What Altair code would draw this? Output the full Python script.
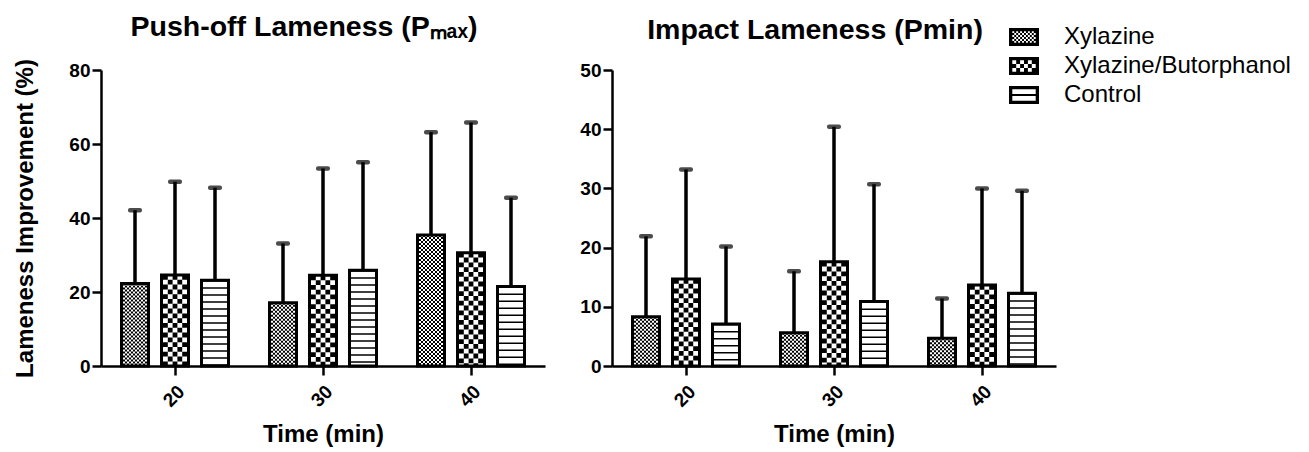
import altair as alt
import pandas as pd

times = ["20", "30", "40"]
series = ["Xylazine", "Xylazine/Butorphanol", "Control"]

# Push-off lameness (Pmax): mean and top of error bar
push_xyl_mean = [22.3, 17.1, 35.4]
push_xb_mean = [24.6, 24.5, 30.6]
push_ctl_mean = [23.2, 25.9, 21.5]
push_xyl_upper = [42.1, 33.1, 63.2]
push_xb_upper = [49.8, 53.4, 65.8]
push_ctl_upper = [48.2, 55.1, 45.5]

# Impact lameness (Pmin)
imp_xyl_mean = [8.3, 5.6, 4.7]
imp_xb_mean = [14.7, 17.6, 13.7]
imp_ctl_mean = [7.1, 10.9, 12.3]
imp_xyl_upper = [21.9, 16.0, 11.4]
imp_xb_upper = [33.2, 40.4, 30.0]
imp_ctl_upper = [20.2, 30.7, 29.6]

FONT = "Liberation Sans"


def frame(means, uppers):
    rows = []
    for s, ms, us in zip(series, means, uppers):
        for t, m, u in zip(times, ms, us):
            rows.append({"time": t, "series": s, "mean": m, "upper": u})
    return pd.DataFrame(rows)


push_df = frame([push_xyl_mean, push_xb_mean, push_ctl_mean],
                [push_xyl_upper, push_xb_upper, push_ctl_upper])
imp_df = frame([imp_xyl_mean, imp_xb_mean, imp_ctl_mean],
               [imp_xyl_upper, imp_xb_upper, imp_ctl_upper])

# ---- layout of the grouped bars (pixels) ----
PLOT_W = 444
STEP = 40          # distance between bar centres inside a group
INNER = 24.0       # inner (fill) width of a bar


def checker_cols(n):
    w = INNER / n
    return [(-INNER / 2 + w * (i + 0.5), w, [w, w], (i % 2) * w) for i in range(n)]


patterns = {
    "Xylazine": checker_cols(12),
    "Xylazine/Butorphanol": checker_cols(5),
    "Control": [(0.0, INNER, [1.5, 5.5], 0.0)],
}


# ---- legend symbols as custom paths (black box with white pattern holes) ----
def box(x0, y0, x1, y1, cw=True):
    if cw:
        return f"M{x0:.3f},{y0:.3f}H{x1:.3f}V{y1:.3f}H{x0:.3f}Z"
    return f"M{x0:.3f},{y0:.3f}V{y1:.3f}H{x1:.3f}V{y0:.3f}Z"


def checker_path(nx, ny):
    p = box(-1, -0.6, 1, 0.6, True)
    x0, y0, x1, y1 = -0.78, -0.39, 0.78, 0.39
    cw_ = (x1 - x0) / nx
    ch_ = (y1 - y0) / ny
    for i in range(nx):
        for j in range(ny):
            if (i + j) % 2 == 0:
                p += box(x0 + i * cw_, y0 + j * ch_, x0 + (i + 1) * cw_, y0 + (j + 1) * ch_, False)
    return p


control_path = box(-1, -0.6, 1, 0.6, True) + box(-0.78, -0.38, 0.78, -0.07, False) + box(-0.78, 0.07, 0.78, 0.38, False)
symbol_paths = [checker_path(12, 6), checker_path(6, 3), control_path]


def panel(df, ymax, ystep, title, ytitle, with_legend):
    x = alt.X("time:N", sort=times,
              scale=alt.Scale(paddingInner=0, paddingOuter=0),
              axis=alt.Axis(title="Time (min)", labelAngle=315, labelPadding=7,
                            titlePadding=12))
    xo = alt.XOffset("series:N", sort=series,
                     scale=alt.Scale(domain=series, paddingInner=0.325, paddingOuter=0.5125))
    yaxis_kwargs = dict(values=list(range(0, ymax + 1, ystep)), labelPadding=2)
    if ytitle:
        yaxis_kwargs.update(title=ytitle, titlePadding=31)
    else:
        yaxis_kwargs.update(title=None)
    y = alt.Y("mean:Q", scale=alt.Scale(domain=[0, ymax], nice=False),
              axis=alt.Axis(**yaxis_kwargs))

    base = alt.Chart(df).encode(x=x, xOffset=xo)
    layers = [base.mark_bar(fill="white", stroke="black", strokeWidth=3).encode(y=y)]
    for k, s in enumerate(series):
        shift = (k - 1) * STEP
        for off, w, dash, doff in patterns[s]:
            layers.append(
                alt.Chart(df).transform_filter(alt.datum.series == s)
                .mark_rule(color="black", strokeWidth=w, strokeDash=dash,
                           strokeDashOffset=doff, xOffset=shift + off, strokeCap="butt")
                .encode(x=x, y="mean:Q", y2=alt.datum(0))
            )
    layers.append(base.mark_rule(color="black", strokeWidth=3.5).encode(y="mean:Q", y2="upper:Q"))
    layers.append(base.mark_tick(color="black", orient="horizontal", size=14,
                                 thickness=4.5, cornerRadius=2).encode(y="upper:Q"))
    if with_legend:
        layers.append(
            base.transform_filter("false")
            .mark_point(filled=True, color="black", opacity=1)
            .encode(
                y="mean:Q",
                shape=alt.Shape("series:N", sort=series,
                                scale=alt.Scale(domain=series, range=symbol_paths),
                                legend=alt.Legend(title=None, orient="none", legendX=908, legendY=-48,
                                                  symbolSize=900, symbolStrokeWidth=0,
                                                  symbolFillColor="black", symbolOpacity=1,
                                                  labelFontSize=24, labelFont=FONT, labelLimit=0,
                                                  labelColor="black", labelOffset=25,
                                                  rowPadding=2)),
            )
        )
    return alt.layer(*layers).properties(
        width=PLOT_W, height=296,
        title=alt.Title(title, fontSize=28.5, fontWeight="bold", font=FONT,
                        color="black", anchor="middle", dx=-19, offset=17),
    )


left = panel(push_df, 80, 20, "Push-off Lameness (P\u2098\u2090\u2093)", "Lameness Improvement (%)", False)
right = panel(imp_df, 50, 10, "Impact Lameness (Pmin)", None, True)

chart = alt.hconcat(left, right, spacing=34).configure_view(stroke=None).configure_axis(
    grid=False, domainColor="black", domainWidth=2.5, tickColor="black", tickWidth=2.5,
    tickSize=9, labelFont=FONT, labelFontSize=19, labelFontWeight="bold", labelColor="black",
    titleFont=FONT, titleFontSize=24, titleFontWeight="bold", titleColor="black",
)

chart.save("out.html", embed_options={"renderer": "svg", "actions": False})
